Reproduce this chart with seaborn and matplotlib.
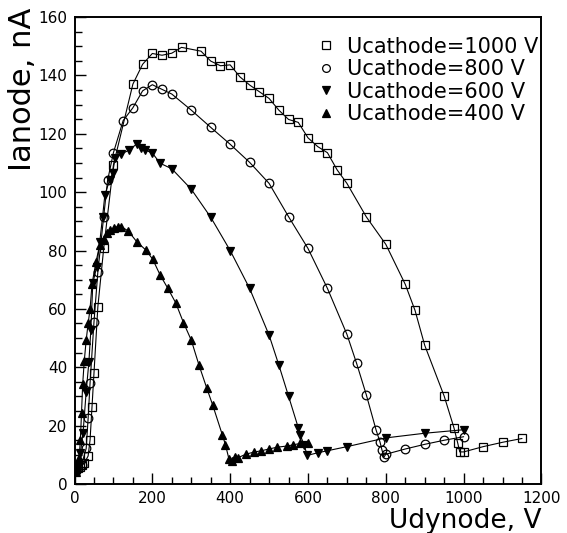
import matplotlib
matplotlib.use("Agg")
import matplotlib.pyplot as plt
from matplotlib.lines import Line2D
from matplotlib.ticker import MultipleLocator
import seaborn as sns
import pandas as pd

# ---- data ----
x_1000 = [5, 10, 15, 20, 25, 35, 40, 45, 50, 60, 75, 100, 150, 175, 200, 225, 250, 275,
          325, 350, 375, 400, 425, 450, 475, 500, 525, 550, 575, 600, 625, 650, 675, 700,
          750, 800, 850, 875, 900, 950, 975, 985, 990, 1000, 1050, 1100, 1150]
y_1000 = [5, 5.5, 6, 6.5, 7.1, 9.6, 15.1, 26.5, 37.9, 60.7, 80.7, 109.3, 137, 143.8, 147.5,
          146.9, 147.6, 149.6, 148.3, 144.9, 143.3, 143.6, 139.5, 136.7, 134.4, 132.1, 128.1,
          124.9, 123.9, 118.6, 115.6, 113.5, 107.6, 103, 91.5, 82.1, 68.4, 59.5, 47.5, 30.1,
          19.3, 13.9, 11, 11, 12.8, 14.3, 15.6]

x_800 = [5, 10, 18, 30, 35, 40, 50, 60, 75, 85, 100, 125, 150, 175, 200, 225, 250, 300,
         350, 400, 450, 500, 550, 600, 650, 700, 725, 750, 775, 785, 790, 795, 800, 850,
         900, 950, 1000]
y_800 = [4.5, 5.5, 6.5, 12.2, 22.5, 34.7, 55.4, 72.7, 91.6, 104, 113.5, 124.5, 128.9, 134.7,
         136.8, 135.2, 133.6, 128.1, 122.2, 116.4, 110.2, 103, 91.6, 80.7, 67, 51.3, 41.3,
         30.5, 18.5, 14.4, 11.7, 9.2, 10.2, 12, 13.6, 15, 16.2]

x_600 = [5, 10, 15, 22, 30, 37, 42, 47, 57, 65, 72, 78, 90, 98, 104, 120, 140, 160, 170,
         180, 200, 220, 250, 300, 350, 400, 450, 500, 525, 550, 575, 580, 590, 598, 625,
         650, 700, 800, 900, 1000]
y_600 = [4, 6, 10.5, 17.6, 31.6, 41.9, 52.8, 68.8, 74.4, 83, 91.4, 99, 104.1, 106.4, 111.6,
         113, 114.4, 116.5, 115.2, 114.5, 113.4, 109.9, 108, 101, 91.4, 80, 67, 51, 40.8,
         30.1, 19.3, 16.8, 13.4, 9.8, 10.7, 11.4, 12.8, 15.8, 17.4, 18.6]

x_400 = [3, 7, 12, 15, 18, 21, 25, 30, 35, 40, 45, 55, 65, 75, 83, 91, 102, 111, 120, 138,
         160, 183, 201, 220, 240, 260, 280, 300, 320, 340, 355, 380, 388, 397, 404, 413,
         420, 440, 460, 480, 500, 520, 545, 561, 580, 600]
y_400 = [4, 7, 9, 15, 24.3, 34.2, 42, 49.3, 55, 60, 68.5, 76, 82, 84, 85.9, 87, 87.8, 88.2,
         88.2, 86.7, 83, 80.2, 77, 71.6, 67, 62.1, 55.3, 49.3, 40.7, 32.8, 27.1, 16.8, 13.4,
         8.5, 8, 9.2, 9, 10.2, 10.9, 11.4, 12, 12.6, 13, 13.4, 13.9, 14.1]

labels = ["Ucathode=1000 V", "Ucathode=800 V", "Ucathode=600 V", "Ucathode=400 V"]
x_ticks = [0, 200, 400, 600, 800, 1000, 1200]
y_ticks = [0, 20, 40, 60, 80, 100, 120, 140, 160]

series = [
    (x_1000, y_1000, labels[0], "s", "none", 6.0),
    (x_800, y_800, labels[1], "o", "none", 6.2),
    (x_600, y_600, labels[2], "v", "black", 5.8),
    (x_400, y_400, labels[3], "^", "black", 5.8),
]

sns.set_style("white")
plt.rcParams["font.family"] = ["DejaVu Sans"]
plt.rcParams["text.color"] = "black"
plt.rcParams["axes.labelcolor"] = "black"
plt.rcParams["xtick.color"] = "black"
plt.rcParams["ytick.color"] = "black"

fig = plt.figure(figsize=(5.67, 5.33), dpi=100)
ax = fig.add_axes([0.1314, 0.0919, 0.8236, 0.8762])

handles = []
for xs, ys, lab, mk, mfc, ms in series:
    df = pd.DataFrame({"x": xs, "y": ys})
    sns.lineplot(data=df, x="x", y="y", ax=ax, sort=False, estimator=None,
                 color="black", linewidth=0.8, marker=mk, markersize=ms,
                 markerfacecolor=mfc, markeredgecolor="black", markeredgewidth=0.9,
                 legend=False)
    handles.append(Line2D([], [], linestyle="none", marker=mk, markersize=ms * 0.9,
                          markerfacecolor=mfc, markeredgecolor="black",
                          markeredgewidth=0.9, color="black", label=lab))

ax.set_xlim(0, 1200)
ax.set_ylim(0, 160)
ax.set_xticks(x_ticks)
ax.set_yticks(y_ticks)
ax.xaxis.set_minor_locator(MultipleLocator(50))
ax.yaxis.set_minor_locator(MultipleLocator(5))
ax.tick_params(which="both", direction="in", top=False, right=False,
               bottom=True, left=True, color="black", labelcolor="black", width=1)
ax.tick_params(which="major", length=8, labelsize=11, pad=5)
ax.tick_params(which="minor", length=5)
for sp in ax.spines.values():
    sp.set_linewidth(1.4)
    sp.set_color("black")

ax.set_xlabel("Udynode, V", fontsize=19, ha="right", color="black")
ax.xaxis.set_label_coords(1.0, -0.052)
ax.set_ylabel("Ianode, nA", fontsize=22, ha="right", color="black")
ax.yaxis.set_label_coords(-0.080, 1.021)

leg = ax.legend(handles=handles, loc="upper right", frameon=False, fontsize=15,
                handlelength=0.8, handletextpad=0.6, labelspacing=0.12,
                borderaxespad=0.0, bbox_to_anchor=(1.01, 0.976))
for t in leg.get_texts():
    t.set_color("black")

fig.savefig("out.png", dpi=100)
